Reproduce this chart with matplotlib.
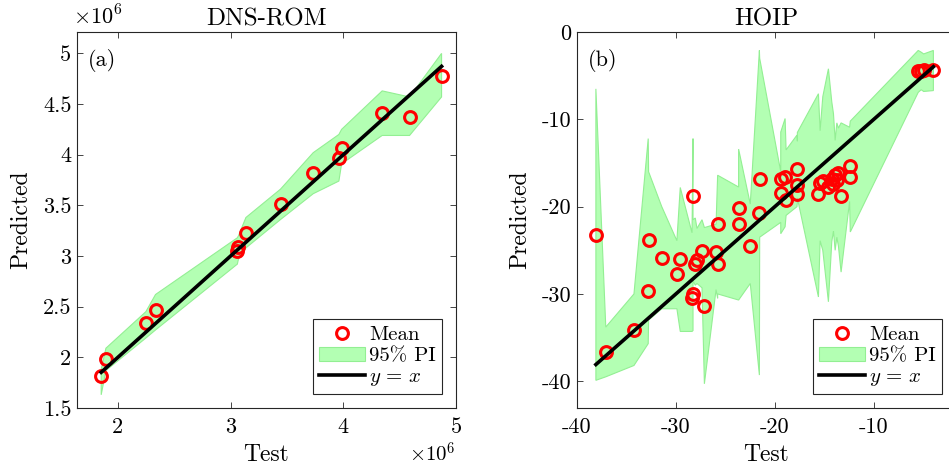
import numpy as np
import matplotlib
matplotlib.use('Agg')
import matplotlib.pyplot as plt

plt.rcParams['font.family'] = ['cmr10', 'DejaVu Serif']
plt.rcParams['mathtext.fontset'] = 'cm'
plt.rcParams['axes.unicode_minus'] = False
plt.rcParams['axes.formatter.use_mathtext'] = True

# DNS-ROM (valeurs en unités de 1e6), triées par valeur test
dns_test = [1.852, 1.894, 2.248, 2.334, 3.060, 3.070, 3.136, 3.443, 3.733, 3.961, 3.985, 4.345, 4.588, 4.872]
dns_mean = [1.812, 1.980, 2.334, 2.470, 3.050, 3.090, 3.229, 3.510, 3.820, 3.966, 4.071, 4.408, 4.369, 4.772]
dns_lower = [1.63, 1.87, 2.19, 2.27, 2.92, 2.97, 3.08, 3.36, 3.615, 3.74, 3.91, 4.19, 4.19, 4.57]
dns_upper = [1.88, 2.09, 2.45, 2.62, 3.18, 3.20, 3.38, 3.66, 4.02, 4.20, 4.25, 4.63, 4.57, 5.00]

# HOIP, triées par valeur test
hoip_test = [-38.09, -37.09, -34.24, -32.80, -32.76, -31.43, -29.90, -29.56, -28.37, -28.27,
             -28.27, -28.04, -27.87, -27.36, -27.12, -25.94, -25.78, -25.78, -23.66, -23.66,
             -22.48, -21.56, -21.53, -19.40, -19.40, -18.96, -18.86, -17.76, -17.72, -17.72,
             -15.59, -15.42, -15.15, -14.58, -14.24, -14.07, -13.90, -13.73, -13.57, -13.30,
             -12.44, -12.37, -5.50, -5.20, -4.95, -3.97]
hoip_mean = [-23.29, -36.69, -34.17, -29.70, -23.86, -25.89, -27.68, -25.96, -30.42, -29.97,
             -18.82, -26.60, -26.15, -25.12, -31.42, -25.20, -26.53, -21.95, -20.12, -22.03,
             -24.55, -20.69, -16.80, -16.80, -18.44, -16.60, -19.20, -17.56, -15.73, -18.59,
             -18.51, -17.30, -17.07, -17.75, -16.80, -17.36, -16.38, -16.95, -16.20, -18.79,
             -15.38, -16.61, -4.40, -4.45, -4.30, -4.30]
hoip_lower = [-39.9, -39.5, -38.2, -35.7, -33.0, -31.7, -31.7, -34.3, -34.3, -34.2,
              -28.5, -29.0, -28.8, -29.3, -40.3, -29.5, -30.5, -30.0, -30.7, -30.7,
              -28.8, -39.3, -23.5, -21.8, -23.1, -22.3, -21.0, -20.0, -19.5, -19.0,
              -30.35, -23.9, -25.0, -30.9, -24.0, -22.8, -25.0, -23.5, -24.5, -27.5,
              -19.4, -22.9, -6.9, -6.6, -6.8, -6.7]
hoip_upper = [-6.5, -33.8, -30.0, -12.2, -16.0, -20.0, -23.9, -17.8, -23.0, -12.2,
              -21.5, -21.3, -22.5, -21.5, -22.4, -22.0, -16.4, -16.4, -17.75, -13.4,
              -19.7, -2.1, -3.0, -16.0, -11.45, -9.9, -13.5, -11.8, -12.5, -11.5,
              -7.06, -11.3, -7.4, -4.2, -8.0, -9.35, -12.4, -10.4, -11.0, -10.4,
              -10.9, -10.2, -2.1, -2.3, -2.5, -2.1]

fill_face = '#b3ffb3'
fill_edge = '#93ef93'
spine_col = '#262626'

fig = plt.figure(figsize=(9.49, 4.71), dpi=100)
ax1 = fig.add_axes([0.0811, 0.1338, 0.3994, 0.798])
ax2 = fig.add_axes([0.608, 0.1338, 0.3994, 0.798])


def panneau(ax, x, m, lo, up, titre, lettre):
    x = np.array(x)
    ax.fill(np.concatenate([x, x[::-1]]), np.concatenate([lo, up[::-1]]),
            facecolor=fill_face, edgecolor=fill_edge, lw=0.8, zorder=1, label='95% PI')
    ax.plot(x, m, 'o', mfc='none', mec='red', mew=2.2, ms=8.5, ls='none',
            zorder=2, label='Mean')
    ax.plot([x.min(), x.max()], [x.min(), x.max()], color='black', lw=2.6,
            zorder=3, label=r'$y\,=\,x$')
    handles, labels = ax.get_legend_handles_labels()
    order = [1, 0, 2]
    leg = ax.legend([handles[i] for i in order], [labels[i] for i in order],
                    loc='lower right', fontsize=15, fancybox=False, framealpha=1,
                    edgecolor=spine_col, handlelength=2.2, handletextpad=0.2,
                    labelspacing=0.12, borderpad=0.3, borderaxespad=0.65)
    leg.get_frame().set_linewidth(0.8)
    ax.set_title(titre, fontsize=18, pad=5)
    ax.set_xlabel('Test', fontsize=17, labelpad=5)
    ax.set_ylabel('Predicted', fontsize=17, labelpad=8)
    ax.text(0.03, 0.955, lettre, transform=ax.transAxes, fontsize=16, va='top', ha='left')
    ax.tick_params(direction='in', top=True, right=True, labelsize=16, length=4,
                   width=0.6, color=spine_col)
    ax.tick_params(axis='x', pad=7)
    ax.tick_params(axis='y', pad=4)
    for s in ax.spines.values():
        s.set_color(spine_col)
        s.set_linewidth(0.8)


panneau(ax1, dns_test, dns_mean, np.array(dns_lower), np.array(dns_upper), 'DNS-ROM', '(a)')
ax1.set_xlim(1.637, 5.0)
ax1.set_ylim(1.5, 5.21)
ax1.set_xticks([2, 3, 4, 5])
ax1.set_xticklabels(['2', '3', '4', '5'])
ax1.set_yticks([1.5, 2, 2.5, 3, 3.5, 4, 4.5, 5])
ax1.set_yticklabels(['1.5', '2', '2.5', '3', '3.5', '4', '4.5', '5'])
ax1.text(-0.01, 1.01, r'$\times10^{6}$', transform=ax1.transAxes, fontsize=16, ha='left', va='bottom')
ax1.text(1.0, -0.09, r'$\times10^{6}$', transform=ax1.transAxes, fontsize=15, ha='right', va='top')

panneau(ax2, hoip_test, hoip_mean, np.array(hoip_lower), np.array(hoip_upper), 'HOIP', '(b)')
ax2.set_xlim(-40, -1.68)
ax2.set_ylim(-43.07, 0)
ax2.set_xticks([-40, -30, -20, -10])
ax2.set_xticklabels(['-40', '-30', '-20', '-10'])
ax2.set_yticks([-40, -30, -20, -10, 0])
ax2.set_yticklabels(['-40', '-30', '-20', '-10', '0'])

fig.savefig('out.png', dpi=100)
